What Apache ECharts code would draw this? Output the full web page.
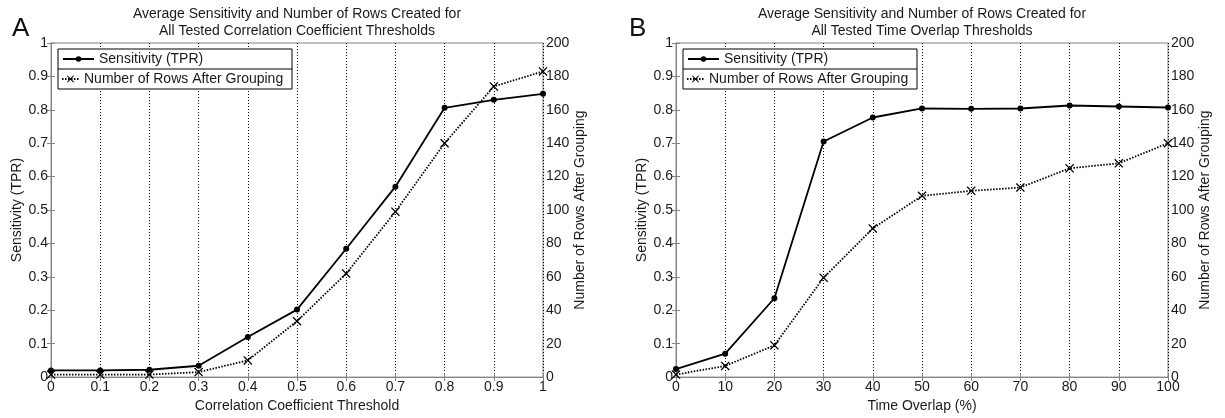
<!DOCTYPE html>
<html>
<head>
<meta charset="utf-8">
<script src="https://cdn.jsdelivr.net/npm/echarts@6/dist/echarts.min.js"></script>
<style>
  html, body { margin: 0; padding: 0; background: #fff; }
  #main { width: 1225px; height: 418px; }
</style>
</head>
<body>
<div id="main"></div>
<script>
var myChart = echarts.init(document.getElementById('main'));

// panel A: correlation coefficient threshold
var corrThresh = [0, 0.1, 0.2, 0.3, 0.4, 0.5, 0.6, 0.7, 0.8, 0.9, 1];
var corrSens = [0.02, 0.02, 0.022, 0.034, 0.12, 0.202, 0.384, 0.57, 0.806, 0.83, 0.848];
var corrRows = [1.5, 1.5, 1.5, 3, 10, 33.5, 62, 99, 140, 174, 183];

// panel B: time overlap
var overlap = [0, 10, 20, 30, 40, 50, 60, 70, 80, 90, 100];
var overlapSens = [0.024, 0.07, 0.236, 0.705, 0.777, 0.804, 0.803, 0.804, 0.813, 0.81, 0.807];
var overlapRows = [1.5, 6.7, 19, 59.5, 89, 108.5, 111.5, 113.5, 125, 128, 140];

var fontFam = '"Liberation Sans", Arial, sans-serif';
var axisGray = '#858585';
var txt = '#1a1a1a';
var xMark = 'path://M0,1L1,0L5,4L9,0L10,1L6,5L10,9L9,10L5,6L1,10L0,9L4,5Z';

// plot boxes (px)
var gridA = { left: 51, right: 1225 - 543 };
var gridB = { left: 676, right: 1225 - 1168 };
var shiftB = gridB.left - gridA.left;

function pairs(xs, ys) {
    return xs.map(function (x, i) { return [x, ys[i]]; });
}

function xAxisOpt(idx, max, interval, name) {
    return {
        type: 'value', gridIndex: idx, min: 0, max: max, interval: interval,
        name: name, nameLocation: 'middle', nameGap: 19,
        nameTextStyle: { color: txt, fontSize: 14, fontFamily: fontFam },
        axisLine: { show: true, lineStyle: { color: axisGray } },
        axisTick: { inside: true, length: 4, lineStyle: { color: axisGray } },
        axisLabel: { color: txt, fontSize: 14, fontFamily: fontFam, margin: 3 },
        splitLine: { show: true, lineStyle: { color: '#000', type: [1, 2], width: 1 } }
    };
}

function topAxisOpt(idx, max, interval) {
    return {
        type: 'value', gridIndex: idx, position: 'top', min: 0, max: max, interval: interval,
        axisLine: { show: true, lineStyle: { color: axisGray } },
        axisTick: { inside: true, length: 4, lineStyle: { color: axisGray } },
        axisLabel: { show: false }, splitLine: { show: false }
    };
}

function yAxisOpt(idx, pos, max, interval, name, gap) {
    return {
        type: 'value', gridIndex: idx, position: pos, min: 0, max: max, interval: interval,
        name: name, nameLocation: 'middle', nameGap: gap,
        nameTextStyle: { color: txt, fontSize: 14, fontFamily: fontFam },
        axisLine: { show: true, lineStyle: { color: axisGray } },
        axisTick: { show: true, inside: true, length: 4, lineStyle: { color: axisGray } },
        axisLabel: { color: txt, fontSize: 14, fontFamily: fontFam, margin: 3 },
        splitLine: { show: false }
    };
}

function sensSeries(idx, data) {
    return {
        name: 'Sensitivity (TPR)', type: 'line', xAxisIndex: idx, yAxisIndex: idx * 2,
        data: data, symbol: 'circle', symbolSize: 6, animation: false,
        lineStyle: { color: '#000', width: 1.8 },
        itemStyle: { color: '#000' }
    };
}

function rowsSeries(idx, data) {
    return {
        name: 'Number of Rows After Grouping', type: 'line', xAxisIndex: idx, yAxisIndex: idx * 2 + 1,
        data: data, symbol: xMark, symbolSize: 9, animation: false,
        lineStyle: { color: '#000', width: 1.8, type: [1.5, 1.5] },
        itemStyle: { color: '#000' }
    };
}

// one legend per row so the two icons can have different lengths, like the original
function legendRow(left, top, iconW, iconH, name) {
    return {
        orient: 'vertical', left: left, top: top, padding: 0, z: 10,
        itemWidth: iconW, itemHeight: iconH,
        textStyle: { color: txt, fontSize: 14, fontFamily: fontFam },
        data: [name]
    };
}

function legendBox(x) {
    return [
        { type: 'rect', shape: { x: x, y: 49, width: 234, height: 40 },
          style: { fill: '#fff', stroke: '#000', lineWidth: 1 }, z: 5 },
        { type: 'line', shape: { x1: x, y1: 69, x2: x + 234, y2: 69 },
          style: { stroke: '#000', lineWidth: 1 }, z: 6 }
    ];
}

var titleStyle = { color: txt, fontSize: 14, fontWeight: 'normal', fontFamily: fontFam, lineHeight: 17 };
var panelStyle = { color: '#111', fontSize: 26, fontWeight: 'normal', fontFamily: fontFam };

myChart.setOption({
    backgroundColor: '#fff',
    title: [
        { text: 'Average Sensitivity and Number of Rows Created for\nAll Tested Correlation Coefficient Thresholds',
          left: 297, top: 6, padding: 0, textAlign: 'center', textStyle: titleStyle },
        { text: 'Average Sensitivity and Number of Rows Created for\nAll Tested Time Overlap Thresholds',
          left: 922, top: 6, padding: 0, textAlign: 'center', textStyle: titleStyle },
        { text: 'A', left: 12, top: 16, padding: 0, textStyle: panelStyle },
        { text: 'B', left: 629, top: 16, padding: 0, textStyle: panelStyle }
    ],
    grid: [
        { left: gridA.left, right: gridA.right, top: 43, bottom: 40, show: true, borderColor: axisGray, borderWidth: 1 },
        { left: gridB.left, right: gridB.right, top: 43, bottom: 40, show: true, borderColor: axisGray, borderWidth: 1 }
    ],
    legend: [
        legendRow(62, 52, 31, 7, 'Sensitivity (TPR)'),
        legendRow(61, 72, 17, 9, 'Number of Rows After Grouping'),
        legendRow(62 + shiftB, 52, 31, 7, 'Sensitivity (TPR)'),
        legendRow(61 + shiftB, 72, 17, 9, 'Number of Rows After Grouping')
    ],
    xAxis: [
        xAxisOpt(0, 1, 0.1, 'Correlation Coefficient Threshold'),
        xAxisOpt(1, 100, 10, 'Time Overlap (%)'),
        topAxisOpt(0, 1, 0.1),
        topAxisOpt(1, 100, 10)
    ],
    yAxis: [
        yAxisOpt(0, 'left', 1, 0.1, 'Sensitivity (TPR)', 27),
        yAxisOpt(0, 'right', 200, 20, 'Number of Rows After Grouping', 29),
        yAxisOpt(1, 'left', 1, 0.1, 'Sensitivity (TPR)', 27),
        yAxisOpt(1, 'right', 200, 20, 'Number of Rows After Grouping', 29)
    ],
    graphic: legendBox(58).concat(legendBox(58 + shiftB)),
    series: [
        sensSeries(0, pairs(corrThresh, corrSens)),
        rowsSeries(0, pairs(corrThresh, corrRows)),
        sensSeries(1, pairs(overlap, overlapSens)),
        rowsSeries(1, pairs(overlap, overlapRows))
    ]
});
</script>
</body>
</html>
